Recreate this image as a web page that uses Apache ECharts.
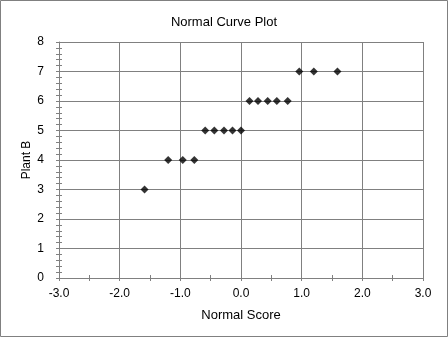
<!DOCTYPE html>
<html>
<head>
<meta charset="utf-8">
<script src="https://cdn.jsdelivr.net/npm/echarts@6/dist/echarts.min.js"></script>
<style>
  html, body { margin: 0; padding: 0; background: #fff; }
  #chart { width: 448px; height: 337px; }
</style>
</head>
<body>
<div id="chart"></div>
<script>
// Normal scores (x) and sorted Plant B observations (y)
const normalScores = [-1.59, -1.2, -0.96, -0.77, -0.59, -0.44, -0.28, -0.14, 0,
                      0.14, 0.28, 0.44, 0.59, 0.77, 0.96, 1.2, 1.59];
const plantB = [3, 4, 4, 4, 5, 5, 5, 5, 5, 6, 6, 6, 6, 6, 7, 7, 7];

const titleText = 'Normal Curve Plot';
const xName = 'Normal Score';
const yName = 'Plant B';

const gridColor = '#808080';
const fontFamily = 'Liberation Sans, Arial, sans-serif';

const points = normalScores.map((x, i) => [x, plantB[i]]);

const chart = echarts.init(document.getElementById('chart'));

const baseX = {
  type: 'value', min: -3, max: 3, interval: 1,
  position: 'bottom'
};
const baseY = {
  type: 'value', min: 0, max: 8, interval: 1,
  position: 'left'
};

chart.setOption({
  backgroundColor: '#ffffff',
  animation: false,
  title: {
    text: titleText, left: 'center', top: 11,
    textStyle: { fontFamily, fontSize: 13, fontWeight: 'normal', color: '#000' }
  },
  grid: { left: 59, right: 25, top: 42, bottom: 59 },
  xAxis: [
    Object.assign({}, baseX, {
      name: xName, nameLocation: 'middle', nameGap: 31, nameMoveOverlap: false,
      nameTextStyle: { fontFamily, fontSize: 13, color: '#000' },
      axisLine: { show: true, onZero: false, lineStyle: { color: gridColor, width: 1 } },
      axisTick: { show: true, inside: false, length: 3, lineStyle: { color: gridColor } },
      minorTick: { show: true, splitNumber: 2, length: 3, lineStyle: { color: gridColor } },
      axisLabel: {
        fontFamily, fontSize: 12, color: '#000', margin: 10,
        formatter: v => v.toFixed(1)
      },
      splitLine: { show: true, lineStyle: { color: gridColor, width: 1 } }
    }),
    Object.assign({}, baseX, {
      axisLine: { show: false, onZero: false },
      axisTick: { show: true, inside: true, length: 3, lineStyle: { color: gridColor } },
      minorTick: { show: true, splitNumber: 2, length: 3, lineStyle: { color: gridColor } },
      axisLabel: { show: false },
      splitLine: { show: false }
    })
  ],
  yAxis: [
    Object.assign({}, baseY, {
      name: yName, nameLocation: 'middle', nameGap: 26, nameMoveOverlap: false,
      nameTextStyle: { fontFamily, fontSize: 12, color: '#000' },
      axisLine: { show: true, onZero: false, lineStyle: { color: gridColor, width: 1 } },
      axisTick: { show: true, inside: false, length: 3, lineStyle: { color: gridColor } },
      minorTick: { show: true, splitNumber: 5, length: 3, lineStyle: { color: gridColor } },
      axisLabel: { fontFamily, fontSize: 12, color: '#000', margin: 15 },
      splitLine: { show: true, lineStyle: { color: gridColor, width: 1 } }
    }),
    Object.assign({}, baseY, {
      axisLine: { show: false, onZero: false },
      axisTick: { show: true, inside: true, length: 3, lineStyle: { color: gridColor } },
      minorTick: { show: true, splitNumber: 5, length: 3, lineStyle: { color: gridColor } },
      axisLabel: { show: false },
      splitLine: { show: false }
    })
  ],
  series: [{
    type: 'scatter',
    xAxisIndex: 0, yAxisIndex: 0,
    data: points,
    symbol: 'diamond',
    symbolSize: 8,
    itemStyle: { color: '#000' }
  }],
  graphic: [{
    type: 'rect',
    shape: { x: 0.5, y: 0.5, width: 447, height: 336 },
    style: { fill: null, stroke: '#808080', lineWidth: 1 },
    silent: true
  }]
});
</script>
</body>
</html>
